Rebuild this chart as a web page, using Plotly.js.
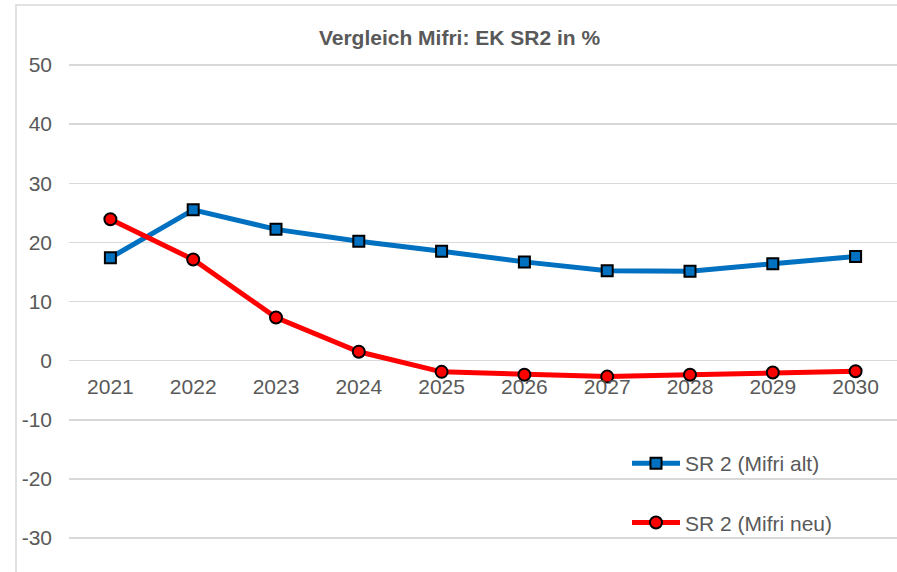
<!DOCTYPE html>
<html>
<head>
<meta charset="utf-8">
<script src="https://cdn.plot.ly/plotly-3.0.1.min.js"></script>
<style>html,body{margin:0;padding:0;background:#fff;}#chart{width:897px;height:572px;}</style>
</head>
<body>
<div id="chart"></div>
<script>
var years = ["2021","2022","2023","2024","2025","2026","2027","2028","2029","2030"];
var mifriAlt = [17.4, 25.5, 22.2, 20.2, 18.5, 16.7, 15.2, 15.1, 16.4, 17.6];
var mifriNeu = [23.9, 17.1, 7.3, 1.5, -1.9, -2.4, -2.7, -2.4, -2.0, -1.8];
var seriesNames = ["SR 2 (Mifri alt)", "SR 2 (Mifri neu)"];
var titleText = "Vergleich Mifri: EK SR2 in %";
var yTickVals = [50, 40, 30, 20, 10, 0, -10, -20, -30];
var yTickText = ["50", "40", "30", "20", "10", "0", "-10", "-20", "-30"];

var W = 897, H = 572, L = 69, T = 20;
var pw = W - L, ph = H - T;
var txt = "#595959", grid = "#D9D9D9";
function px(x){ return (x - L) / pw; }
function py(y){ return (H - y) / ph; }

var traces = [
  {x: years, y: mifriAlt, name: seriesNames[0], type: "scatter", mode: "lines+markers",
   legendgroup: "a",
   line: {color: "#0070C0", width: 5},
   marker: {symbol: "square", size: 11, color: "#0070C0", line: {color: "#000", width: 2}}},
  {x: years, y: mifriNeu, name: seriesNames[1], type: "scatter", mode: "lines+markers",
   legendgroup: "b",
   line: {color: "#FF0000", width: 5},
   marker: {symbol: "circle", size: 12, color: "#FF0000", line: {color: "#000", width: 2}}}
];

var layout = {
  width: W, height: H,
  margin: {l: L, r: 0, t: T, b: 0, pad: 0},
  paper_bgcolor: "#fff", plot_bgcolor: "#fff",
  font: {family: "Liberation Sans, Arial, sans-serif", color: txt, size: 21},
  title: {text: "<b>" + titleText + "</b>", font: {size: 21, color: txt},
          xref: "container", x: 459.5 / W, xanchor: "center",
          yref: "container", y: 1 - 38 / H, yanchor: "middle"},
  showlegend: true,
  legend: {x: px(627), xanchor: "left", y: py(443), yanchor: "top",
           bgcolor: "rgba(0,0,0,0)", traceorder: "grouped", tracegroupgap: 29,
           itemwidth: 48,
           font: {size: 21, color: txt}},
  xaxis: {type: "category", range: [-0.5, 9.5], showgrid: false, zeroline: false,
          showline: false, ticks: "", anchor: "free", position: py(360),
          tickfont: {size: 21, color: txt}, ticklabelstandoff: 12, fixedrange: true},
  yaxis: {range: [-30 - (H - 538) / 5.9125, 50 + (65 - T) / 5.9125],
          tickmode: "array", tickvals: yTickVals, ticktext: yTickText,
          showgrid: true, gridcolor: grid, gridwidth: 1.5, zeroline: false, showline: false,
          ticks: "", tickfont: {size: 21, color: txt}, ticklabelstandoff: 16, fixedrange: true},
  shapes: [{type: "path", xref: "paper", yref: "paper",
            path: "M " + px(16) + "," + py(H + 2) + " L " + px(16) + "," + py(5) + " L " + px(W + 5) + "," + py(5),
            line: {color: grid, width: 1.5}}]
};

Plotly.newPlot("chart", traces, layout, {staticPlot: true, displayModeBar: false});
</script>
</body>
</html>
